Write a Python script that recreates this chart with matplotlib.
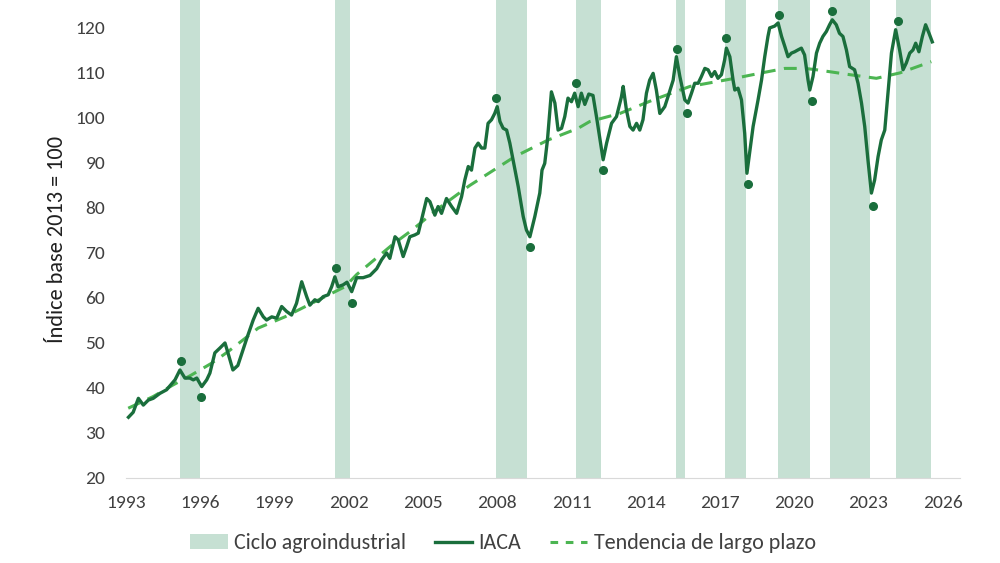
import matplotlib
matplotlib.use('Agg')
import matplotlib.pyplot as plt
from matplotlib.patches import Patch
from matplotlib.lines import Line2D

plt.rcParams['font.family'] = ['Carlito', 'Liberation Sans Narrow', 'Open Sans', 'DejaVu Sans']

# IACA (decimal year, index value)
fechas = [
    1993.10, 1993.29, 1993.50, 1993.70, 1993.90, 1994.10, 1994.37, 1994.64, 1994.98, 1995.18,
    1995.38, 1995.58, 1995.72, 1995.86, 1996.06, 1996.26, 1996.39, 1996.59, 1996.80, 1997.00,
    1997.12, 1997.32, 1997.52, 1997.88, 1998.14, 1998.34, 1998.55, 1998.68, 1998.89, 1999.09,
    1999.29, 1999.49, 1999.69, 1999.89, 2000.10, 2000.30, 2000.43, 2000.63, 2000.77, 2000.97,
    2001.17, 2001.31, 2001.44, 2001.57, 2001.77, 2001.93, 2002.12, 2002.32, 2002.58, 2002.86,
    2003.13, 2003.33, 2003.53, 2003.66, 2003.87, 2004.00, 2004.20, 2004.34, 2004.47, 2004.67,
    2004.81, 2004.94, 2005.15, 2005.28, 2005.48, 2005.61, 2005.75, 2005.95, 2006.16, 2006.36,
    2006.56, 2006.69, 2006.83, 2006.96, 2007.10, 2007.23, 2007.37, 2007.50, 2007.63, 2007.77,
    2007.90, 2008.00, 2008.11, 2008.24, 2008.38, 2008.51, 2008.64, 2008.85, 2009.05, 2009.18,
    2009.32, 2009.52, 2009.72, 2009.81, 2009.92, 2010.03, 2010.19, 2010.33, 2010.46, 2010.60,
    2010.73, 2010.86, 2011.00, 2011.13, 2011.27, 2011.40, 2011.54, 2011.70, 2011.87, 2012.01,
    2012.28, 2012.42, 2012.62, 2012.82, 2013.02, 2013.09, 2013.22, 2013.36, 2013.49, 2013.63,
    2013.76, 2013.89, 2014.03, 2014.16, 2014.30, 2014.43, 2014.57, 2014.77, 2014.90, 2015.11,
    2015.24, 2015.38, 2015.58, 2015.71, 2015.85, 2015.98, 2016.12, 2016.25, 2016.39, 2016.52,
    2016.66, 2016.79, 2016.92, 2017.06, 2017.19, 2017.26, 2017.40, 2017.53, 2017.60, 2017.73,
    2017.87, 2018.00, 2018.09, 2018.20, 2018.34, 2018.54, 2018.68, 2018.81, 2018.94, 2019.01,
    2019.21, 2019.35, 2019.49, 2019.62, 2019.75, 2019.89, 2020.02, 2020.15, 2020.29, 2020.42,
    2020.56, 2020.63, 2020.76, 2020.90, 2021.03, 2021.16, 2021.30, 2021.43, 2021.54, 2021.70,
    2021.83, 2021.97, 2022.11, 2022.24, 2022.44, 2022.58, 2022.72, 2022.85, 2022.98, 2023.12,
    2023.25, 2023.39, 2023.52, 2023.66, 2023.79, 2023.93, 2024.10, 2024.26, 2024.40, 2024.53,
    2024.67, 2024.80, 2024.91, 2025.04, 2025.18, 2025.31, 2025.45, 2025.58,
]
iaca = [
    33.5, 34.6, 37.7, 36.2, 37.3, 37.7, 38.8, 39.6, 41.8, 44.0,
    42.2, 42.2, 41.8, 42.2, 40.3, 41.8, 43.3, 47.8, 48.9, 50.0,
    47.8, 44.0, 45.0, 51.0, 55.1, 57.7, 55.8, 55.1, 55.8, 55.5,
    58.1, 57.0, 56.2, 58.8, 63.6, 60.3, 58.4, 59.6, 59.2, 60.3,
    60.7, 62.5, 64.7, 62.5, 62.9, 63.5, 61.4, 64.5, 64.5, 65.0,
    66.5, 68.5, 70.0, 68.8, 73.6, 72.9, 69.2, 71.4, 73.6, 74.0,
    74.4, 77.3, 82.1, 81.4, 78.4, 80.3, 78.8, 82.1, 80.3, 78.8,
    82.5, 86.2, 89.2, 88.4, 93.3, 94.4, 93.3, 93.3, 98.8, 99.6,
    101.0, 102.5, 99.2, 97.7, 97.3, 94.4, 90.7, 84.7, 78.1, 75.1,
    73.6, 78.1, 83.3, 88.4, 89.9, 95.1, 105.8, 103.3, 97.3, 97.7,
    100.3, 104.4, 103.6, 105.5, 102.5, 105.5, 103.0, 105.3, 105.0, 100.3,
    90.7, 94.4, 98.8, 100.3, 104.7, 107.0, 101.8, 98.1, 97.3, 98.8,
    97.3, 99.6, 105.5, 108.4, 109.9, 106.2, 101.0, 102.5, 104.7, 108.4,
    113.6, 109.2, 104.0, 103.3, 105.5, 107.7, 107.7, 109.2, 111.0, 110.7,
    109.2, 110.3, 108.8, 109.6, 112.9, 115.5, 113.6, 108.4, 106.2, 106.6,
    104.0, 96.6, 87.7, 92.2, 98.1, 104.0, 108.4, 113.6, 118.1, 120.0,
    120.4, 121.1, 118.1, 115.9, 113.6, 114.4, 114.7, 115.1, 115.5, 114.0,
    108.4, 106.2, 109.2, 114.4, 116.6, 118.1, 119.2, 120.7, 121.8, 120.7,
    118.8, 118.1, 115.1, 111.4, 110.7, 107.7, 103.3, 98.1, 90.7, 83.3,
    86.2, 91.4, 95.1, 97.3, 105.5, 114.4, 119.6, 115.1, 110.7, 112.2,
    114.4, 115.1, 116.6, 114.7, 118.1, 120.7, 118.8, 116.9,
]

# long-term trend
fechas_tend = [1993.09, 1994.10, 1994.91, 1995.65, 1996.46, 1997.13, 1998.34, 1999.42, 2000.50,
               2001.85, 2002.32, 2003.80, 2004.54, 2005.55, 2006.49, 2006.89, 2008.71, 2010.06,
               2011.27, 2011.74, 2012.96, 2014.30, 2015.79, 2016.10, 2017.60, 2018.68, 2019.62,
               2020.43, 2020.90, 2022.26, 2023.32, 2024.27, 2025.54]
tendencia = [35.5, 38.1, 40.7, 42.9, 45.5, 48.1, 53.3, 55.8, 58.8,
             62.5, 65.2, 72.0, 75.0, 79.6, 83.4, 85.0, 91.4, 95.1,
             97.7, 99.2, 101.0, 104.0, 107.0, 107.3, 108.8, 110.0, 111.0,
             111.0, 110.7, 109.6, 108.8, 110.0, 112.5]

# cycle bands (start, end)
ciclos = [(1995.20, 1996.00), (2001.46, 2002.07), (2007.94, 2009.22), (2011.17, 2012.18),
          (2015.21, 2015.60), (2017.22, 2018.04), (2019.35, 2020.62), (2021.46, 2023.08),
          (2024.13, 2025.54)]

# peaks and troughs
picos_x = [1995.22, 2001.48, 2007.94, 2011.17, 2015.25, 2017.23, 2019.37, 2021.51, 2024.18]
picos_y = [46.0, 66.7, 104.4, 107.8, 115.3, 117.8, 122.9, 123.8, 121.6]
valles_x = [1996.03, 2002.13, 2009.32, 2012.27, 2015.66, 2018.12, 2020.70, 2023.17]
valles_y = [38.0, 58.9, 71.3, 88.4, 101.1, 85.3, 103.8, 80.4]

anios = list(range(1993, 2027, 3))

c_band = '#c6e0d3'
c_iaca = '#1a6e3c'
c_tend = '#4cb552'
c_text = '#404040'

fig = plt.figure(figsize=(10, 5.63), dpi=100)
ax = fig.add_axes([0.126, 0.151, 0.834, 0.849])

for ini, fin in ciclos:
    ax.axvspan(ini, fin, color=c_band, lw=0, zorder=1)

ax.plot(fechas_tend, tendencia, color=c_tend, lw=2.2, dashes=(4.2, 2.8), zorder=2)
ax.plot(fechas, iaca, color=c_iaca, lw=2.4, solid_joinstyle='round', zorder=3)
ax.plot(picos_x, picos_y, 'o', color=c_iaca, ms=5.5, zorder=4)
ax.plot(valles_x, valles_y, 'o', color=c_iaca, ms=5.5, zorder=4)

ax.set_xlim(1993, 2026.7)
ax.set_ylim(20, 126.2)
ax.set_xticks(anios)
ax.set_yticks(range(20, 121, 10))
ax.tick_params(axis='both', length=0, labelsize=14, colors=c_text)
ax.tick_params(axis='x', pad=12)
ax.tick_params(axis='y', pad=15)
for s in ['top', 'right', 'left']:
    ax.spines[s].set_visible(False)
ax.spines['bottom'].set_color('#d9d9d9')
ax.set_ylabel('Índice base 2013 = 100', fontsize=16, color='#202020', labelpad=6)

handles = [Patch(facecolor=c_band, edgecolor='none'),
           Line2D([], [], color=c_iaca, lw=2.4),
           Line2D([], [], color=c_tend, lw=2.2, dashes=(2.5, 2.5))]
fig.legend(handles, ['Ciclo agroindustrial', 'IACA', 'Tendencia de largo plazo'],
           loc='center', bbox_to_anchor=(0.503, 0.035), ncol=3, frameon=False,
           fontsize=15.8, handlelength=1.7, handletextpad=0.3, columnspacing=1.3,
           labelcolor=c_text)

fig.savefig('out.png', dpi=100)
